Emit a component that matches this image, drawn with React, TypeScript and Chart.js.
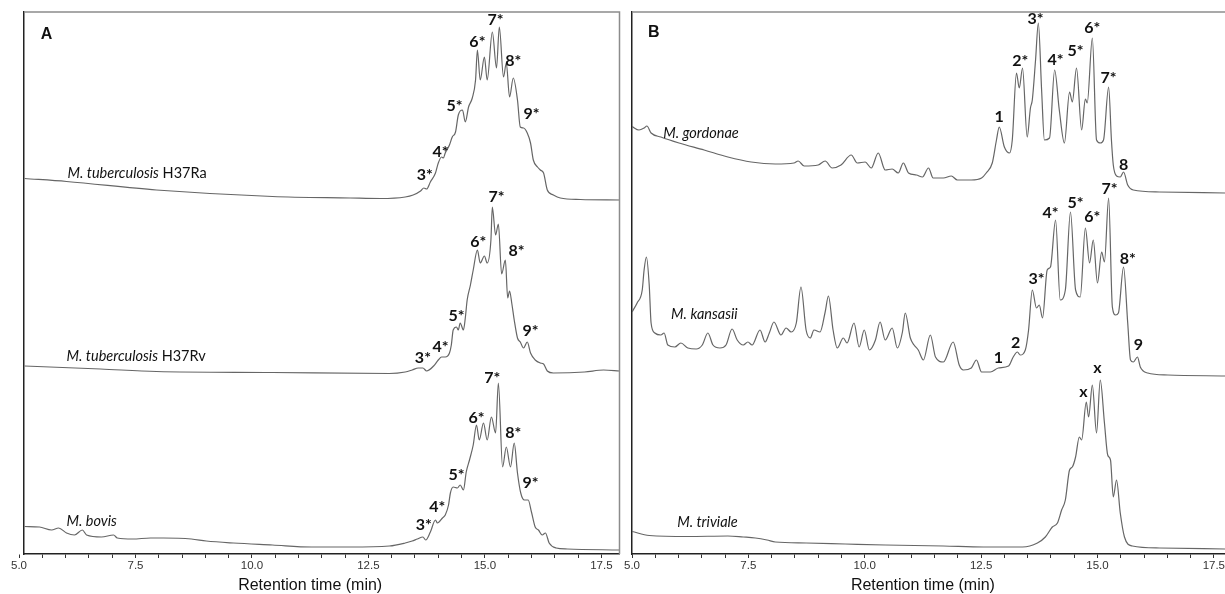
import React, { useEffect, useRef } from 'react';
import { Chart, registerables } from 'chart.js';
Chart.register(...registerables);

type Pt = [number, number];
type Label = [string, number, number];
type Species = { italic: string; roman: string; x: number; y: number };

// ---------- axis ticks ----------
const tickValues = [5.0, 5.5, 6.0, 6.5, 7.0, 7.5, 8.0, 8.5, 9.0, 9.5, 10.0, 10.5, 11.0, 11.5, 12.0, 12.5, 13.0, 13.5, 14.0, 14.5, 15.0, 15.5, 16.0, 16.5, 17.0, 17.5];
const majorTicks = [5.0, 7.5, 10.0, 12.5, 15.0, 17.5];
const axisTitle = 'Retention time (min)';

// ---------- Panel A traces (retention time, stacked signal) ----------
const h37ra: Pt[] = [
  [5.12, 75.1], [6.02, 74.5], [7.95, 72.8], [10.44, 71.5], [12.11, 71.2], [12.76, 71.1], [13.29, 71.4], [13.46, 71.8],
  [13.62, 72.6], [13.69, 73.2], [13.75, 73.0], [13.83, 74.4], [13.94, 76.2], [14.0, 78.2], [14.07, 79.4], [14.11, 79.2],
  [14.15, 80.2], [14.24, 81.8], [14.3, 83.4], [14.37, 84.4], [14.43, 87.8], [14.52, 88.8], [14.58, 86.4], [14.65, 89.4],
  [14.73, 91.2], [14.8, 94.8], [14.84, 100.8], [14.9, 94.8], [14.99, 99.4], [15.05, 94.8], [15.16, 104.4], [15.25, 97.2],
  [15.31, 105.4], [15.4, 95.4], [15.46, 98.2], [15.53, 91.4], [15.61, 95.2], [15.7, 90.8], [15.76, 85.4], [15.83, 85.2],
  [15.91, 84.2], [15.98, 82.2], [16.04, 78.8], [16.13, 77.4], [16.19, 76.8], [16.26, 76.2], [16.34, 72.8], [16.47, 71.8],
  [16.62, 71.2], [17.05, 70.9], [17.89, 70.8],
];
const h37rv: Pt[] = [
  [5.12, 37.6], [6.75, 37.0], [7.95, 36.5], [10.44, 36.3], [12.95, 36.1], [13.29, 36.4], [13.44, 36.8], [13.57, 37.2],
  [13.67, 37.2], [13.75, 36.6], [13.9, 37.6], [14.0, 38.8], [14.07, 39.4], [14.15, 39.4], [14.24, 40.2], [14.28, 41.8],
  [14.32, 44.8], [14.39, 45.4], [14.43, 44.8], [14.47, 46.2], [14.54, 44.8], [14.58, 47.2], [14.62, 50.8], [14.69, 53.8],
  [14.75, 56.8], [14.84, 60.8], [14.9, 58.2], [14.99, 59.6], [15.05, 58.2], [15.13, 62.8], [15.16, 69.4], [15.23, 63.8],
  [15.29, 66.0], [15.36, 56.0], [15.44, 58.8], [15.49, 51.2], [15.53, 52.6], [15.58, 50.0], [15.63, 46.8], [15.7, 43.2],
  [15.76, 42.4], [15.83, 41.2], [15.91, 42.4], [15.98, 40.2], [16.08, 38.8], [16.19, 38.2], [16.26, 38.0], [16.34, 36.6],
  [16.47, 36.2], [17.14, 36.4], [17.55, 36.8], [17.89, 36.6],
];
const bovis: Pt[] = [
  [5.12, 5.5], [5.44, 5.4], [5.7, 4.8], [5.85, 5.2], [6.02, 4.2], [6.19, 3.8], [6.36, 4.8], [6.45, 3.8], [6.77, 3.4],
  [7.03, 3.8], [7.11, 3.2], [7.44, 3.0], [7.82, 3.2], [8.1, 3.2], [8.7, 3.0], [9.02, 2.6], [9.6, 2.2], [10.44, 1.8],
  [11.28, 1.4], [12.11, 1.4], [12.95, 1.6], [13.29, 2.2], [13.44, 2.6], [13.55, 3.0], [13.67, 3.4], [13.73, 2.8],
  [13.83, 4.4], [13.94, 6.8], [13.98, 6.2], [14.09, 7.2], [14.15, 7.8], [14.22, 9.8], [14.26, 12.2], [14.32, 13.4],
  [14.41, 13.2], [14.47, 13.8], [14.54, 12.8], [14.6, 16.4], [14.67, 18.8], [14.75, 21.8], [14.82, 25.8], [14.88, 22.8],
  [14.97, 26.2], [15.05, 22.8], [15.14, 27.4], [15.23, 24.2], [15.29, 34.2], [15.38, 17.4], [15.46, 21.4], [15.55, 17.4],
  [15.63, 22.2], [15.7, 16.2], [15.77, 12.2], [15.85, 10.8], [15.93, 10.8], [16.0, 8.4], [16.08, 5.4], [16.15, 4.8],
  [16.23, 3.8], [16.3, 4.2], [16.38, 2.2], [16.53, 1.2], [16.77, 1.0], [17.89, 0.8],
];

// ---------- Panel B traces ----------
const gordonae: Pt[] = [
  [5.0, 85.5], [5.15, 84.8], [5.26, 85.2], [5.32, 85.6], [5.41, 84.2], [5.62, 83.4], [6.01, 82.2], [6.55, 80.8],
  [7.06, 79.4], [7.56, 78.4], [8.08, 78.0], [8.48, 78.2], [8.57, 78.6], [8.7, 77.6], [9.0, 77.8], [9.15, 78.6],
  [9.3, 77.2], [9.49, 77.8], [9.71, 79.8], [9.84, 78.2], [10.01, 78.4], [10.14, 77.2], [10.29, 80.2], [10.44, 76.8],
  [10.59, 77.0], [10.72, 76.2], [10.83, 78.2], [10.94, 76.2], [11.11, 75.8], [11.24, 75.4], [11.37, 77.2], [11.47, 75.2],
  [11.69, 75.2], [11.86, 75.6], [11.99, 74.8], [12.29, 74.8], [12.51, 75.2], [12.61, 76.2], [12.74, 78.2], [12.83, 82.8],
  [12.89, 85.4], [13.0, 81.4], [13.11, 80.2], [13.17, 82.8], [13.26, 96.2], [13.32, 93.2], [13.39, 97.2], [13.49, 83.4],
  [13.56, 89.2], [13.6, 90.8], [13.67, 98.8], [13.73, 106.2], [13.8, 92.8], [13.86, 82.8], [13.97, 83.2], [14.08, 96.8],
  [14.18, 88.8], [14.29, 82.2], [14.4, 92.4], [14.46, 90.4], [14.55, 97.2], [14.66, 84.8], [14.74, 91.0], [14.78, 90.2],
  [14.89, 103.2], [14.98, 82.8], [15.06, 82.2], [15.13, 82.8], [15.24, 93.4], [15.3, 82.8], [15.34, 77.8], [15.41, 75.6],
  [15.49, 75.4], [15.56, 76.4], [15.65, 73.8], [15.77, 72.8], [16.33, 72.4], [17.75, 72.2],
];
const kansasii: Pt[] = [
  [5.0, 48.4], [5.11, 50.2], [5.22, 52.8], [5.26, 56.8], [5.31, 59.4], [5.37, 53.8], [5.41, 46.2], [5.49, 44.2],
  [5.62, 43.8], [5.69, 44.2], [5.77, 41.8], [5.92, 41.4], [6.05, 42.2], [6.2, 41.2], [6.38, 41.0], [6.51, 41.8],
  [6.63, 44.2], [6.74, 41.8], [6.89, 41.2], [7.02, 41.8], [7.15, 45.0], [7.26, 42.8], [7.39, 41.8], [7.49, 42.4],
  [7.58, 41.8], [7.75, 44.8], [7.86, 42.4], [7.95, 44.2], [8.05, 46.4], [8.2, 43.8], [8.31, 45.2], [8.42, 44.4],
  [8.53, 46.2], [8.63, 53.4], [8.74, 44.8], [8.83, 43.2], [8.91, 44.8], [9.04, 44.4], [9.15, 48.4], [9.22, 51.6],
  [9.32, 44.8], [9.41, 41.2], [9.54, 43.2], [9.62, 42.2], [9.77, 46.2], [9.88, 41.4], [9.99, 44.8], [10.1, 40.8],
  [10.23, 42.8], [10.33, 46.4], [10.44, 42.8], [10.59, 45.2], [10.7, 41.2], [10.81, 44.4], [10.87, 48.2], [10.98, 43.2],
  [11.06, 41.8], [11.15, 40.8], [11.26, 38.8], [11.41, 43.8], [11.52, 39.4], [11.69, 38.4], [11.9, 42.4], [12.03, 37.8],
  [12.12, 36.8], [12.29, 37.2], [12.4, 38.8], [12.51, 36.4], [12.7, 36.4], [12.87, 37.2], [13.09, 37.6], [13.19, 39.4],
  [13.28, 40.4], [13.34, 39.8], [13.45, 40.8], [13.52, 44.8], [13.6, 52.8], [13.69, 49.2], [13.75, 49.8], [13.82, 47.2],
  [13.92, 56.8], [13.99, 57.4], [14.1, 66.8], [14.2, 50.8], [14.31, 52.8], [14.42, 68.4], [14.53, 52.8], [14.63, 51.4],
  [14.74, 65.2], [14.83, 58.2], [14.91, 62.8], [15.0, 54.2], [15.09, 60.4], [15.15, 58.4], [15.24, 71.2], [15.32, 49.4],
  [15.39, 47.8], [15.45, 48.2], [15.56, 57.4], [15.65, 46.2], [15.71, 38.8], [15.77, 38.4], [15.86, 39.4], [15.92, 37.4],
  [16.08, 36.2], [16.51, 35.8], [17.75, 35.6],
];
const triviale: Pt[] = [
  [5.0, 4.5], [5.37, 3.7], [6.2, 3.5], [7.06, 3.6], [7.39, 3.4], [7.65, 3.2], [7.9, 2.8], [8.08, 2.4], [8.74, 2.2],
  [9.58, 2.0], [10.44, 1.8], [11.69, 1.6], [12.55, 1.4], [13.39, 1.4], [13.71, 2.2], [13.88, 3.4], [14.03, 5.4],
  [14.14, 6.2], [14.23, 8.8], [14.31, 10.8], [14.4, 16.8], [14.46, 17.4], [14.53, 19.4], [14.61, 23.4], [14.66, 22.8],
  [14.76, 30.4], [14.81, 27.4], [14.89, 33.8], [14.98, 24.2], [15.06, 34.8], [15.15, 26.2], [15.22, 19.8], [15.28, 18.8],
  [15.34, 11.4], [15.41, 14.8], [15.49, 8.2], [15.58, 3.4], [15.75, 1.6], [16.33, 1.2], [17.75, 1.0],
];

// ---------- annotations (text, retention time, signal) ----------
const peakLabelsA: Label[] = [
  ['7*', 15.23, 106.8], ['6*', 14.84, 102.4], ['8*', 15.61, 98.6], ['5*', 14.35, 89.6], ['9*', 16.0, 88.0], ['4*', 14.05, 80.4], ['3*', 13.71, 75.8],
  ['7*', 15.25, 71.4], ['6*', 14.86, 62.4], ['8*', 15.68, 60.6], ['5*', 14.39, 47.6], ['9*', 15.98, 44.6], ['4*', 14.05, 41.4], ['3*', 13.67, 39.2],
  ['7*', 15.16, 35.2], ['6*', 14.82, 27.2], ['8*', 15.61, 24.2], ['5*', 14.39, 15.8], ['9*', 15.98, 14.2], ['4*', 13.98, 9.4], ['3*', 13.69, 5.8],
];
const peakLabelsB: Label[] = [
  ['1', 12.89, 87.4], ['2*', 13.34, 98.6], ['3*', 13.67, 107.0], ['4*', 14.1, 98.8], ['5*', 14.53, 100.6], ['6*', 14.89, 105.2], ['7*', 15.24, 95.2], ['8', 15.56, 77.8],
  ['1', 12.87, 39.2], ['2', 13.24, 42.2], ['3*', 13.69, 55.0], ['4*', 13.99, 68.2], ['5*', 14.53, 70.2], ['6*', 14.89, 67.4], ['7*', 15.26, 73.0], ['8*', 15.65, 59.0], ['9', 15.88, 41.8],
  ['x', 14.7, 32.4], ['x', 15.0, 37.2],
];
const speciesA: Species[] = [
  { italic: 'M. tuberculosis', roman: ' H37Ra', x: 6.04, y: 76.2 },
  { italic: 'M. tuberculosis', roman: ' H37Rv', x: 6.02, y: 39.6 },
  { italic: 'M. bovis', roman: '', x: 6.02, y: 6.6 },
];
const speciesB: Species[] = [
  { italic: 'M. gordonae', roman: '', x: 5.67, y: 84.2 },
  { italic: 'M. kansasii', roman: '', x: 5.84, y: 48.0 },
  { italic: 'M. triviale', roman: '', x: 5.97, y: 6.4 },
];

const LINE = '#666666';
const SIGNAL_MAX = 108.4;

const panelPlugin = {
  id: 'panelText',
  afterDatasetsDraw(chart: any, _args: any, opts: any) {
    const { ctx, chartArea } = chart;
    const xs = chart.scales.x;
    const ys = chart.scales.y;
    ctx.save();
    // top / right frame
    ctx.strokeStyle = '#8c8c8c';
    ctx.lineWidth = 1.5;
    ctx.beginPath();
    ctx.moveTo(chartArea.left, chartArea.top);
    ctx.lineTo(chartArea.right, chartArea.top);
    if (opts.rightBorder) ctx.lineTo(chartArea.right, chartArea.bottom);
    ctx.stroke();

    ctx.fillStyle = '#111';
    ctx.textBaseline = 'middle';
    // panel letter
    ctx.textAlign = 'center';
    ctx.font = 'bold 16px "Liberation Sans", Arial, sans-serif';
    ctx.fillText(opts.letter[0], xs.getPixelForValue(opts.letter[1]), ys.getPixelForValue(opts.letter[2]));
    // peak labels
    ctx.font = 'bold 16px Lato, "Open Sans", sans-serif';
    for (const [t, x, y] of opts.peaks as Label[]) {
      ctx.fillText(t, xs.getPixelForValue(x), ys.getPixelForValue(y));
    }
    // species labels
    ctx.textAlign = 'left';
    for (const s of opts.species as Species[]) {
      const px = xs.getPixelForValue(s.x);
      const py = ys.getPixelForValue(s.y);
      ctx.font = 'italic 14.5px Lato, "Open Sans", sans-serif';
      ctx.fillText(s.italic, px, py);
      const w = ctx.measureText(s.italic).width;
      if (s.roman) {
        ctx.font = '14.5px Lato, "Open Sans", sans-serif';
        ctx.fillText(s.roman, px + w, py);
      }
    }
    // axis title
    ctx.textAlign = 'center';
    ctx.textBaseline = 'alphabetic';
    ctx.font = '16px "Liberation Sans", Arial, sans-serif';
    ctx.fillText(axisTitle, xs.getPixelForValue(11.25), chartArea.bottom + 36);
    ctx.restore();
  },
};

function makeConfig(series: Pt[][], min: number, max: number, pad: any, extra: any): any {
  return {
    type: 'line',
    data: {
      datasets: series.map((s) => ({
        data: s.map(([x, y]) => ({ x, y })),
        borderColor: LINE,
        borderWidth: 1.2,
        pointRadius: 0,
        fill: false,
        cubicInterpolationMode: 'monotone',
      })),
    },
    options: {
      animation: false,
      responsive: false,
      events: [],
      layout: { padding: pad },
      plugins: { legend: { display: false }, tooltip: { enabled: false }, panelText: extra },
      scales: {
        x: {
          type: 'linear',
          min,
          max,
          afterBuildTicks: (axis: any) => {
            axis.ticks = tickValues.map((v) => ({ value: v }));
          },
          afterFit: (axis: any) => {
            axis.height = 40;
            axis.paddingLeft = 0;
            axis.paddingRight = 0;
          },
          ticks: {
            autoSkip: false,
            maxRotation: 0,
            padding: 1,
            color: '#333',
            font: { family: '"Liberation Sans", Arial, sans-serif', size: 11.5 },
            callback: (v: number) => (majorTicks.includes(v) ? v.toFixed(1) : ''),
          },
          grid: { drawOnChartArea: false, drawTicks: true, tickLength: 4, tickColor: '#333', tickWidth: 1 },
          border: { display: true, color: '#222', width: 1.5 },
        },
        y: {
          min: 0,
          max: SIGNAL_MAX,
          ticks: { display: false },
          grid: { display: false, drawTicks: false },
          border: { display: true, color: '#222', width: 1.5 },
          afterFit: (axis: any) => {
            axis.width = 0;
          },
        },
      },
    },
    plugins: [panelPlugin],
  };
}

export default function App() {
  const refA = useRef<HTMLCanvasElement>(null);
  const refB = useRef<HTMLCanvasElement>(null);
  useEffect(() => {
    const a = new Chart(
      refA.current as HTMLCanvasElement,
      makeConfig([h37ra, h37rv, bovis], 5.107, 17.89, { left: 24, top: 12, right: 2.5, bottom: 0 }, {
        letter: ['A', 5.59, 103.8],
        peaks: peakLabelsA,
        species: speciesA,
        rightBorder: true,
      })
    );
    const b = new Chart(
      refB.current as HTMLCanvasElement,
      makeConfig([gordonae, kansasii, triviale], 5.0, 17.74, { left: 10, top: 12, right: 0, bottom: 0 }, {
        letter: ['B', 5.47, 104.2],
        peaks: peakLabelsB,
        species: speciesB,
        rightBorder: false,
      })
    );
    return () => {
      a.destroy();
      b.destroy();
    };
  }, []);
  return (
    <div style={{ position: 'fixed', left: 0, top: 0, width: 1225, height: 594, background: '#fff' }}>
      <canvas ref={refA} width={622} height={594} style={{ position: 'absolute', left: 0, top: 0 }} />
      <canvas ref={refB} width={603} height={594} style={{ position: 'absolute', left: 622, top: 0 }} />
    </div>
  );
}
